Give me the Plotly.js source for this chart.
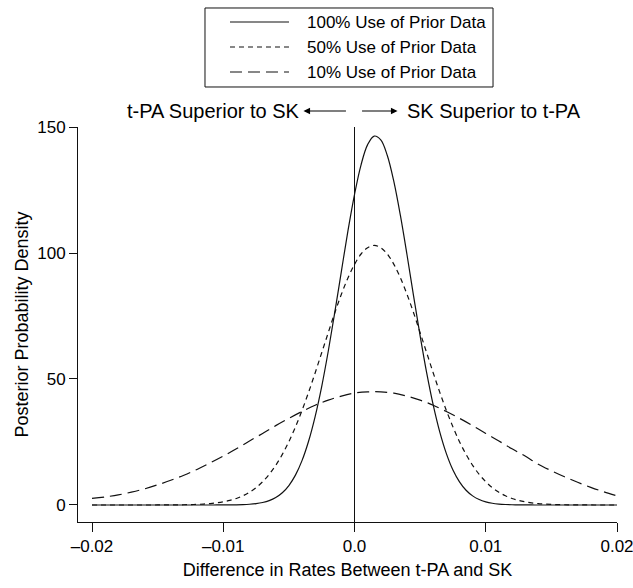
<!DOCTYPE html>
<html>
<head>
<meta charset="utf-8">
<script src="https://cdn.plot.ly/plotly-3.0.1.min.js"></script>
<style>html,body{margin:0;padding:0;background:#fff;}#chart{width:633px;height:588px;}</style>
</head>
<body>
<div id="chart"></div>
<script>
// fine x grid (step 0.0005) for the two narrow curves
const xFine = [-0.0200,-0.0195,-0.0190,-0.0185,-0.0180,-0.0175,-0.0170,-0.0165,-0.0160,-0.0155,
  -0.0150,-0.0145,-0.0140,-0.0135,-0.0130,-0.0125,-0.0120,-0.0115,-0.0110,-0.0105,
  -0.0100,-0.0095,-0.0090,-0.0085,-0.0080,-0.0075,-0.0070,-0.0065,-0.0060,-0.0055,
  -0.0050,-0.0045,-0.0040,-0.0035,-0.0030,-0.0025,-0.0020,-0.0015,-0.0010,-0.0005,
  0.0000,0.0005,0.0010,0.0015,0.0020,0.0025,0.0030,0.0035,0.0040,0.0045,
  0.0050,0.0055,0.0060,0.0065,0.0070,0.0075,0.0080,0.0085,0.0090,0.0095,
  0.0100,0.0105,0.0110,0.0115,0.0120,0.0125,0.0130,0.0135,0.0140,0.0145,
  0.0150,0.0155,0.0160,0.0165,0.0170,0.0175,0.0180,0.0185,0.0190,0.0195,0.0200];

// coarse x grid (step 0.001) for the wide curve
const xCoarse = [-0.020,-0.019,-0.018,-0.017,-0.016,-0.015,-0.014,-0.013,-0.012,-0.011,
  -0.010,-0.009,-0.008,-0.007,-0.006,-0.005,-0.004,-0.003,-0.002,-0.001,
  0.000,0.001,0.002,0.003,0.004,0.005,0.006,0.007,0.008,0.009,
  0.010,0.011,0.012,0.013,0.014,0.015,0.016,0.017,0.018,0.019,0.020];

const prior100 = [0,0,0,0,0,0,0,0,0,0,
  0,0,0,0,0,0,0,0,0,0.01,
  0.02,0.04,0.07,0.15,0.29,0.54,0.99,1.74,2.96,4.86,
  7.72,11.84,17.6,25.3,35.1,47.0,61.0,76.5,92.7,108.8,
  123.2,135.0,143.0,146.4,144.9,138.7,128.3,114.8,99.3,83.0,
  67.1,52.4,39.6,28.9,20.4,13.9,9.2,5.86,3.62,2.16,
  1.25,0.69,0.37,0.19,0.10,0.05,0.02,0.01,0,0,
  0,0,0,0,0,0,0,0,0,0,0];

const prior50 = [0,0,0,0,0,0,0,0,0,0,
  0.01,0.02,0.03,0.06,0.09,0.15,0.23,0.37,0.56,0.84,
  1.25,1.81,2.59,3.66,5.06,6.89,9.23,12.15,15.75,20.07,
  25.13,30.96,37.52,44.7,52.4,60.4,68.4,76.3,83.6,90.1,
  95.5,99.6,102.1,103.0,102.1,99.6,95.5,90.1,83.6,76.3,
  68.4,60.4,52.4,44.7,37.5,31.0,25.1,20.1,15.75,12.15,
  9.23,6.89,5.06,3.66,2.59,1.81,1.25,0.84,0.56,0.37,
  0.23,0.15,0.09,0.06,0.03,0.02,0.01,0,0,0,0];

const prior10 = [2.6,3.2,4.0,5.1,6.4,8.0,9.8,11.8,14.1,16.7,
  19.4,22.3,25.4,28.4,31.5,34.4,37.1,39.6,41.6,43.2,
  44.4,44.9,44.9,44.4,43.2,41.6,39.6,37.1,34.4,31.5,
  28.4,25.4,22.3,19.4,16.2,13.6,11.2,9.0,7.0,5.2,3.6];

const seriesNames = ["100% Use of Prior Data", "50% Use of Prior Data", "10% Use of Prior Data"];
const seriesDash = ["solid", "5px,4px", "12px,6px"];
const xTickVals = [-0.02, -0.01, 0, 0.01, 0.02];
const xTickText = ["\u20130.02", "\u20130.01", "0.0", "0.01", "0.02"];
const yTickVals = [0, 50, 100, 150];

const FONT = "Arial, 'Liberation Sans', Helvetica, sans-serif";
const INK = "#000";
const LINE = "#111";

const seriesX = [xFine, xFine, xCoarse];
const seriesY = [prior100, prior50, prior10];
const traces = seriesY.map((ys, i) => ({
  type: "scatter", mode: "lines", x: seriesX[i], y: ys, name: seriesNames[i],
  line: {color: LINE, width: 1.2, dash: seriesDash[i], shape: "spline", smoothing: 1},
  hoverinfo: "skip", showlegend: false
}));

// Legend drawn as a framed box
const legX0 = 0.2356, legX1 = 0.770, legY0 = 1.1013, legY1 = 1.3013;
const legRows = [1.2658, 1.2025, 1.1392];
const shapes = [
  {type: "line", xref: "x", yref: "paper", x0: 0, x1: 0, y0: 0, y1: 1,
   line: {color: LINE, width: 1}},
  {type: "rect", xref: "paper", yref: "paper", x0: legX0, x1: legX1, y0: legY0, y1: legY1,
   line: {color: LINE, width: 1}, fillcolor: "rgba(0,0,0,0)"}
];
const annotations = [];
legRows.forEach((ry, i) => {
  shapes.push({type: "line", xref: "paper", yref: "paper", x0: 0.282, x1: 0.3915, y0: ry, y1: ry,
    line: {color: LINE, width: 1.2, dash: seriesDash[i]}});
  annotations.push({xref: "paper", yref: "paper", x: 0.4212, y: ry, xanchor: "left", yanchor: "middle",
    text: seriesNames[i], showarrow: false, font: {family: FONT, size: 17, color: INK}});
});

annotations.push(
  {xref: "x", yref: "paper", x: 0, xshift: -53, y: 1.0405, xanchor: "right", yanchor: "middle",
   text: "t-PA Superior to SK", showarrow: false, font: {family: FONT, size: 20, color: INK}},
  {xref: "x", yref: "paper", x: 0, xshift: 50, y: 1.0405, xanchor: "left", yanchor: "middle",
   text: "SK Superior to t-PA", showarrow: false, font: {family: FONT, size: 20, color: INK}},
  {xref: "x", yref: "paper", x: -0.00389, y: 1.0405, axref: "pixel", ayref: "pixel", ax: 44, ay: 0,
   text: "", showarrow: true, arrowhead: 2, arrowsize: 1.1, arrowwidth: 1.2, arrowcolor: INK},
  {xref: "x", yref: "paper", x: 0.00328, y: 1.0405, axref: "pixel", ayref: "pixel", ax: -37, ay: 0,
   text: "", showarrow: true, arrowhead: 2, arrowsize: 1.1, arrowwidth: 1.2, arrowcolor: INK}
);

const layout = {
  width: 633, height: 588,
  margin: {l: 78, r: 16, t: 127, b: 66},
  paper_bgcolor: "#fff", plot_bgcolor: "#fff",
  font: {family: FONT, size: 16, color: INK},
  showlegend: false,
  xaxis: {
    range: [-0.021067, 0.02], tickvals: xTickVals, ticktext: xTickText,
    showline: true, linecolor: LINE, linewidth: 1, ticks: "outside", ticklen: 9, tickwidth: 1, tickcolor: LINE,
    showgrid: false, zeroline: false, ticklabeloverflow: "allow",
    tickfont: {family: FONT, size: 17, color: INK},
    title: {text: "Difference in Rates Between t-PA and SK", font: {family: FONT, size: 18, color: INK}, standoff: 7}
  },
  yaxis: {
    range: [-6.75, 150], tickvals: yTickVals,
    showline: true, linecolor: LINE, linewidth: 1, ticks: "outside", ticklen: 8, tickwidth: 1, tickcolor: LINE,
    showgrid: false, zeroline: false, ticklabeloverflow: "allow",
    tickfont: {family: FONT, size: 17, color: INK},
    title: {text: "Posterior Probability Density", font: {family: FONT, size: 18, color: INK}, standoff: 3}
  },
  shapes: shapes,
  annotations: annotations
};

Plotly.newPlot("chart", traces, layout, {displayModeBar: false, staticPlot: true});
</script>
</body>
</html>
